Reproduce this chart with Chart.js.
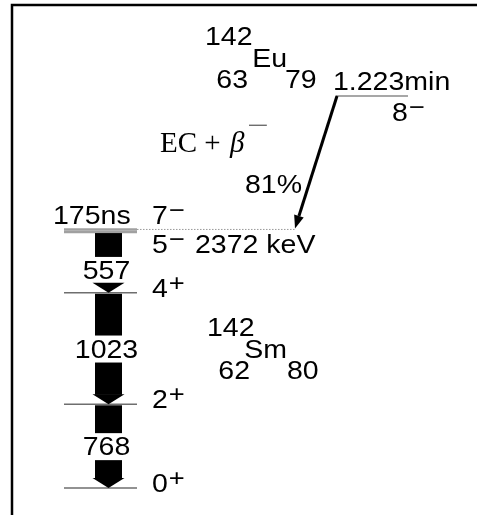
<!DOCTYPE html>
<html>
<head>
<meta charset="utf-8">
<script src="https://cdn.jsdelivr.net/npm/chart.js@4.4.0/dist/chart.umd.min.js"></script>
<style>
  html, body { margin: 0; padding: 0; background: #fff; overflow: hidden; }
  canvas { display: block; }
</style>
</head>
<body>
<canvas id="scheme" width="477" height="515"></canvas>
<script>
// Decay of the 8- isomer of 142Eu into levels of 142Sm
const levelEnergies = [0, 768, 1791, 2348, 2372];   // keV
const levelSpins    = ['0', '2', '4', '5', '7'];
const levelParities = ['+', '+', '+', '\u2212', '\u2212'];
const gammaEnergies = [557, 1023, 768];              // keV
const gammaFrom     = [2348, 1791, 768];             // initial level, keV
const isomerEnergy  = 2372;
const isomerHalfLife = '175ns';
const parentHalfLife = '1.223min';
const parentSpin = '8';
const parentParity = '\u2212';
const betaBranch = 81;                                // percent
const parentNuclide   = ['142', 'Eu', '63', '79'];    // A, symbol, Z, N
const daughterNuclide = ['142', 'Sm', '62', '80'];

// ---- drawing layout ----
const LEVEL_X = [64, 137];
const PARENT_X = [336, 408];
const PARENT_DRAW_E = 3596;      // schematic height of the parent level
const ARROW_X = 108.5;
const SANS = '"Liberation Sans", Arial, sans-serif';
const SERIF = '"Liberation Serif", "Times New Roman", serif';
const HS = 1.14;                 // horizontal stretch of sans labels

const levelDatasets = levelEnergies.map(e => {
  const close = e === isomerEnergy || e === 2348;
  return {
    data: [{x: LEVEL_X[0], y: e}, {x: LEVEL_X[1], y: e}],
    borderColor: close ? '#a0a0a0' : '#6e6e6e',
    borderWidth: close ? 2.4 : 1.4,
    showLine: true, pointRadius: 0
  };
});
levelDatasets.push({
  data: [{x: LEVEL_X[1], y: isomerEnergy}, {x: 295, y: isomerEnergy}],
  borderColor: '#9a9a9a', borderWidth: 1, borderDash: [1.5, 1.5],
  showLine: true, pointRadius: 0
});
levelDatasets.push({
  data: [{x: PARENT_X[0], y: PARENT_DRAW_E}, {x: PARENT_X[1], y: PARENT_DRAW_E}],
  borderColor: '#8a8a8a', borderWidth: 1.4, showLine: true, pointRadius: 0
});

function txt(ctx, s, x, y, opt = {}) {
  ctx.save();
  ctx.font = opt.font || ('25px ' + SANS);
  ctx.fillStyle = opt.color || '#000';
  ctx.textBaseline = 'alphabetic';
  ctx.textAlign = opt.align || 'left';
  ctx.translate(x, y);
  ctx.scale(opt.hs === undefined ? HS : opt.hs, 1);
  ctx.fillText(s, 0, 0);
  const w = ctx.measureText(s).width * (opt.hs === undefined ? HS : opt.hs);
  ctx.restore();
  return w;
}

function spinLabel(ctx, j, p, x, base) {
  const w = txt(ctx, j, x, base);
  txt(ctx, p, x + w + 1, base - 6, {font: '24px ' + SANS});
}

const schemePlugin = {
  id: 'scheme',
  afterDatasetsDraw(chart) {
    const ctx = chart.ctx;
    const ys = chart.scales.y;
    const Y = e => ys.getPixelForValue(e);

    // frame
    ctx.save();
    ctx.strokeStyle = '#000';
    ctx.lineWidth = 2.5;
    ctx.beginPath();
    ctx.moveTo(12, 515); ctx.lineTo(12, 5); ctx.lineTo(477, 5);
    ctx.stroke();
    ctx.restore();

    // gamma transitions
    gammaEnergies.forEach((eg, i) => {
      const top = Y(gammaFrom[i]);
      const tip = Y(gammaFrom[i] - eg);
      let mid = (top + tip) / 2;
      if (tip - top < 80) mid += 7.5;
      const headTop = tip - 10;
      const bw = 27, hw = 32;
      ctx.fillStyle = '#000';
      ctx.fillRect(ARROW_X - bw / 2, top + 1, bw, mid - 14 - top);
      if (mid + 14 < headTop) ctx.fillRect(ARROW_X - bw / 2, mid + 14, bw, headTop - mid - 14 + 0.5);
      ctx.beginPath();
      ctx.moveTo(ARROW_X - hw / 2, headTop);
      ctx.lineTo(ARROW_X + hw / 2, headTop);
      ctx.lineTo(ARROW_X, tip);
      ctx.closePath();
      ctx.fill();
      txt(ctx, String(eg), ARROW_X - 2, mid + 9, {align: 'center'});
    });

    // beta/EC feeding arrow
    const x0 = 337, y0 = Y(PARENT_DRAW_E), x1 = 295, y1 = Y(isomerEnergy) - 1;
    const ang = Math.atan2(y1 - y0, x1 - x0);
    const hl = 13, hwid = 5;
    const bx = x1 - hl * Math.cos(ang), by = y1 - hl * Math.sin(ang);
    ctx.save();
    ctx.strokeStyle = '#000';
    ctx.lineWidth = 3;
    ctx.beginPath(); ctx.moveTo(x0, y0); ctx.lineTo(bx, by); ctx.stroke();
    ctx.beginPath();
    ctx.moveTo(x1, y1);
    ctx.lineTo(bx + hwid * Math.sin(ang), by - hwid * Math.cos(ang));
    ctx.lineTo(bx - hwid * Math.sin(ang), by + hwid * Math.cos(ang));
    ctx.closePath();
    ctx.fillStyle = '#000';
    ctx.fill();
    ctx.restore();

    // level labels
    levelEnergies.forEach((e, i) => {
      const yl = Y(e);
      let base = yl + 4;
      if (e === isomerEnergy) base = yl - 5;
      else if (e === 2348) base = yl + 21;
      spinLabel(ctx, levelSpins[i], levelParities[i], 152, base);
      if (e === 2348) txt(ctx, isomerEnergy + ' keV', 195, base);
      if (e === isomerEnergy) txt(ctx, isomerHalfLife, 53, base);
    });

    // parent level labels
    const yp = Y(PARENT_DRAW_E);
    txt(ctx, parentHalfLife, 333, yp - 6);
    spinLabel(ctx, parentSpin, parentParity, 392, yp + 25);

    // nuclide symbols
    const nuc = (n, x, y, symRight) => {
      txt(ctx, n[0], x, y);
      txt(ctx, n[1], symRight, y + 22, {align: 'right'});
      txt(ctx, n[2], x + 43, y + 43, {align: 'right'});
      txt(ctx, n[3], x + 80, y + 43);
    };
    nuc(parentNuclide, 205, 45, 287);
    nuc(daughterNuclide, 207, 336, 287);

    // decay mode and branch
    ctx.save();
    ctx.fillStyle = '#000';
    ctx.textBaseline = 'alphabetic';
    ctx.font = '29px ' + SERIF;
    ctx.fillText('EC + ', 160, 152);
    const w1 = ctx.measureText('EC + ').width;
    ctx.font = 'italic 29px ' + SERIF;
    ctx.fillText('\u03b2', 160 + w1 + 2, 152);
    const w2 = ctx.measureText('\u03b2').width;
    ctx.restore();
    txt(ctx, '\u2212', 160 + w1 + w2 + 5, 133, {font: '24px ' + SERIF, hs: 1.6, color: '#555'});
    txt(ctx, betaBranch + '%', 245, 193);
  }
};

new Chart(document.getElementById('scheme'), {
  type: 'scatter',
  data: { datasets: levelDatasets },
  options: {
    responsive: false,
    devicePixelRatio: 1,
    animation: false,
    layout: { padding: 0 },
    plugins: { legend: { display: false }, tooltip: { enabled: false } },
    scales: {
      x: { type: 'linear', min: 0, max: 477, display: false },
      y: { type: 'linear', min: -247.7, max: 4477, display: false }
    }
  },
  plugins: [schemePlugin]
});
</script>
</body>
</html>
